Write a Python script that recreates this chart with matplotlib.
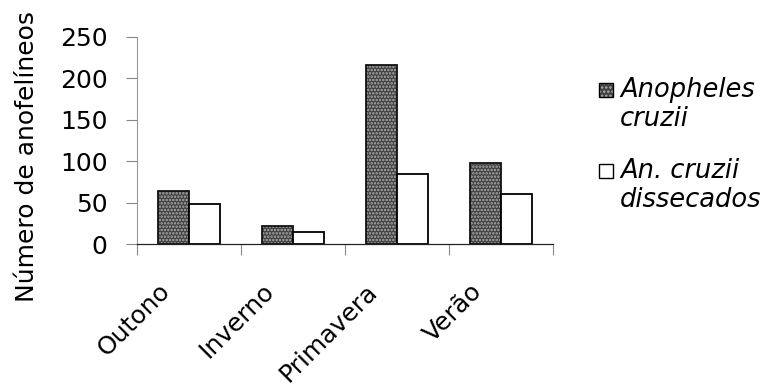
import matplotlib.pyplot as plt
import numpy as np
from matplotlib.patches import Rectangle

plt.rcParams['font.family'] = ['DejaVu Sans']
plt.rcParams['hatch.linewidth'] = 1.2

estacoes = ['Outono', 'Inverno', 'Primavera', 'Verão']
anopheles_cruzii = [64, 22, 216, 98]
cruzii_dissecados = [48, 14, 85, 60]
rotulos = ['Anopheles\ncruzii', 'An. cruzii\ndissecados']

COR_ESCURA = '#404040'
COR_PONTOS = (0.68, 0.68, 0.68, 1.0)

fig = plt.figure(figsize=(7.69, 3.85), dpi=100)
W, H = fig.get_size_inches() * fig.dpi
ax = fig.add_axes([0.178, 0.366, 0.541, 0.538])

x = np.arange(len(estacoes))
w = 0.3
b1 = ax.bar(x - w / 2, anopheles_cruzii, w, facecolor=COR_ESCURA,
            edgecolor='#111111', hatch='.....', linewidth=1.3)
for p in b1:
    p._hatch_color = COR_PONTOS
ax.bar(x + w / 2, cruzii_dissecados, w, facecolor='white',
       edgecolor='black', linewidth=1.3)

ax.set_xlim(-0.5, len(estacoes) - 0.5)
ax.set_ylim(0, 250)
ax.set_yticks(range(0, 251, 50))
ax.tick_params(axis='y', labelsize=18, length=8, width=0.8, color='#888888', pad=13)

# ticks do eixo x ficam entre as categorias
ax.set_xticks(np.arange(-0.5, len(estacoes), 1.0))
ax.set_xticklabels([])
ax.tick_params(axis='x', length=8, width=0.8, color='#888888')
for i, nome in enumerate(estacoes):
    ax.text(i - 0.22, -0.21, nome, transform=ax.get_xaxis_transform(),
            rotation=45, ha='right', va='center', rotation_mode='anchor',
            fontsize=18)

for s in ['top', 'right']:
    ax.spines[s].set_visible(False)
ax.spines['left'].set_color('#999999')
ax.spines['left'].set_linewidth(0.8)
ax.spines['bottom'].set_color('#222222')
ax.spines['bottom'].set_linewidth(0.9)

fig.text(27 / W, 1 - 157 / H, 'Número de anofelíneos', rotation=90,
         ha='center', va='center', fontsize=18)

# legenda desenhada à mão: quadrado alinhado à primeira linha do texto
leg = [(COR_ESCURA, 90), ('white', 171)]
for (cor, yc), rot in zip(leg, rotulos):
    r = Rectangle((599 / W, 1 - (yc + 7) / H), 14 / W, 14 / H,
                  transform=fig.transFigure, facecolor=cor,
                  edgecolor='black', linewidth=1.0,
                  hatch='....' if cor == COR_ESCURA else None)
    if cor == COR_ESCURA:
        r._hatch_color = COR_PONTOS
    fig.add_artist(r)
    fig.text(620 / W, 1 - (yc - 13) / H, rot, ha='left', va='top',
             fontsize=18.5, style='italic', linespacing=1.15)

fig.savefig('out.png', dpi=100)
